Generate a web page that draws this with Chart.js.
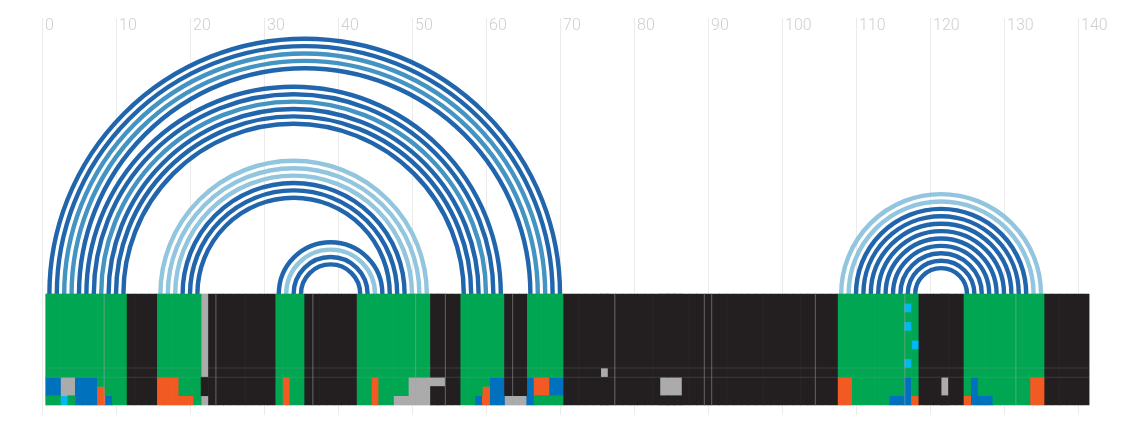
<!DOCTYPE html>
<html>
<head>
<meta charset="utf-8">
<script src="https://cdn.jsdelivr.net/npm/chart.js@4/dist/chart.umd.min.js"></script>
<style>
  html, body { margin: 0; padding: 0; background: #ffffff; }
  #wrap { width: 1128px; height: 428px; position: relative; }
</style>
</head>
<body>
<div id="wrap"><canvas id="c"></canvas></div>
<script>
// ---------------- data ----------------
const tickValues = [0, 10, 20, 30, 40, 50, 60, 70, 80, 90, 100, 110, 120, 130, 140];
const sequenceLength = 141;
const rowCount = 12;

// base pairs: left position, right position, support class
const pairLeft  = [1, 2, 3, 4, 5,   6, 7, 8, 9, 10, 11,   16, 17, 18, 19, 20, 21,   32, 33, 34, 35,
                   108, 109, 110, 111, 112, 113, 114, 115, 116, 117, 118];
const pairRight = [70, 69, 68, 67, 66,   62, 61, 60, 59, 58, 57,   52, 51, 50, 49, 48, 47,   46, 45, 44, 43,
                   135, 134, 133, 132, 131, 130, 129, 128, 127, 126, 125];
const pairClass = ['strong', 'strong', 'medium', 'medium', 'strong',
                   'strong', 'strong', 'medium', 'strong', 'strong', 'strong',
                   'weak', 'weak', 'weak', 'strong', 'strong', 'strong',
                   'strong', 'weak', 'strong', 'strong',
                   'weak', 'weak', 'strong', 'strong', 'strong', 'strong', 'strong', 'strong', 'strong', 'strong', 'strong'];

// columns paired in every row
const pairedRuns = [[1, 11], [16, 21], [32, 35], [43, 52], [57, 62], [66, 70], [108, 118], [125, 135]];

// per-cell states: [fromCol, toCol, fromRow, toRow, state]
// states: P paired, U unpaired, O orange, B blue, S gap (gray), C cyan
const cellMarks = [
  [22, 22, 0, 8, 'S'], [22, 22, 11, 11, 'S'],
  [117, 117, 1, 1, 'C'], [117, 117, 3, 3, 'C'], [118, 118, 5, 5, 'C'], [117, 117, 7, 7, 'C'],
  [76, 76, 8, 8, 'S'],
  [1, 2, 9, 10, 'B'], [3, 4, 9, 10, 'S'], [3, 3, 11, 11, 'C'], [5, 7, 9, 11, 'B'],
  [8, 8, 10, 11, 'O'], [9, 9, 11, 11, 'B'],
  [16, 18, 9, 11, 'O'], [19, 20, 11, 11, 'O'],
  [33, 33, 9, 11, 'O'], [45, 45, 9, 11, 'O'],
  [50, 54, 9, 9, 'S'], [50, 52, 10, 10, 'S'], [48, 52, 11, 11, 'S'],
  [59, 59, 11, 11, 'B'], [60, 60, 10, 11, 'O'], [61, 62, 9, 11, 'B'], [63, 65, 11, 11, 'S'],
  [66, 66, 9, 11, 'B'], [67, 68, 9, 10, 'O'], [69, 70, 9, 10, 'B'],
  [84, 86, 9, 10, 'S'],
  [108, 109, 9, 11, 'O'],
  [115, 116, 11, 11, 'B'], [117, 117, 9, 11, 'B'], [118, 118, 11, 11, 'O'],
  [122, 122, 9, 10, 'S'],
  [125, 125, 11, 11, 'O'], [126, 126, 9, 11, 'B'], [127, 128, 11, 11, 'B'],
  [134, 135, 9, 11, 'O']
];

// faint guide lines inside the band
const bandGuides = [8.4, 23.5, 36.6, 50.5, 54.5, 63.6, 77.4, 89.5, 90.5, 104.5, 116.6, 131.6];
const bandSeparatorRows = [8, 9];

// ---------------- styles ----------------
const ROW_H = 1.25;            // row height in axis units
const stateColors = { U: '#231f20', P: '#00a651', O: '#f15a22', B: '#0071bc', S: '#ababab', C: '#00b9f1' };
const arcColors = { strong: '#2166ac', medium: '#4393c3', weak: '#92c5de' };
const faint = 'rgba(170,170,170,0.2)';

// ---------------- build grid ----------------
const grid = [];
for (let r = 0; r < rowCount; r++) {
  const row = {};
  for (let c = 1; c <= sequenceLength; c++) row[c] = 'U';
  pairedRuns.forEach(([a, b]) => { for (let c = a; c <= b; c++) row[c] = 'P'; });
  grid.push(row);
}
cellMarks.forEach(([c0, c1, r0, r1, s]) => {
  for (let r = r0; r <= r1; r++) for (let c = c0; c <= c1; c++) grid[r][c] = s;
});

const cellData = {};
Object.keys(stateColors).forEach(k => cellData[k] = []);
for (let c = 1; c <= sequenceLength; c++) {
  let r = 0;
  while (r < rowCount) {
    const s = grid[r][c];
    let e = r;
    while (e + 1 < rowCount && grid[e + 1][c] === s) e++;
    cellData[s].push({ x: c, y: [-(e + 1) * ROW_H, -r * ROW_H] });
    r = e + 1;
  }
}

const datasets = [];
Object.keys(stateColors).forEach(k => {
  datasets.push({
    type: 'bar', data: cellData[k], backgroundColor: stateColors[k],
    borderWidth: 0, barPercentage: 1, categoryPercentage: 1, grouped: false, order: 2
  });
});
const bandLeft = 0.5, bandRight = sequenceLength + 0.5;
bandSeparatorRows.forEach(r => {
  datasets.push({
    type: 'line', data: [{ x: bandLeft, y: -r * ROW_H }, { x: bandRight, y: -r * ROW_H }],
    borderColor: faint, borderWidth: 1, pointRadius: 0, order: 1
  });
});
bandGuides.forEach(g => {
  datasets.push({
    type: 'line', data: [{ x: g, y: 0 }, { x: g, y: -rowCount * ROW_H }],
    borderColor: faint, borderWidth: 1, pointRadius: 0, order: 1
  });
});

// ---------------- arcs plugin ----------------
const arcPlugin = {
  id: 'pairArcs',
  beforeDatasetsDraw(chart) {
    const { ctx, chartArea, scales: { x, y } } = chart;
    ctx.save();
    ctx.beginPath();
    ctx.rect(chartArea.left, chartArea.top, chartArea.width, chartArea.height);
    ctx.clip();
    ctx.lineWidth = 4.4;
    const y0 = y.getPixelForValue(0);
    pairLeft.forEach((l, i) => {
      const a = x.getPixelForValue(l), b = x.getPixelForValue(pairRight[i]);
      ctx.beginPath();
      ctx.strokeStyle = arcColors[pairClass[i]];
      ctx.arc((a + b) / 2, y0, Math.abs(b - a) / 2, Math.PI, 2 * Math.PI);
      ctx.stroke();
    });
    ctx.restore();
  }
};

// ---------------- chart ----------------
const PX_PER_UNIT = 7.4;
const W = 1128, TOP = 18, BOTTOM = 13, H = 428;
const x0px = 42, bandTopPx = 294;
const xMin = -x0px / PX_PER_UNIT, xMax = (W - x0px) / PX_PER_UNIT;
const yMax = (bandTopPx - TOP) / PX_PER_UNIT, yMin = -((H - BOTTOM) - bandTopPx) / PX_PER_UNIT;

new Chart(document.getElementById('c'), {
  type: 'bar',
  data: { datasets },
  plugins: [arcPlugin],
  options: {
    responsive: true,
    maintainAspectRatio: false,
    animation: false,
    events: [],
    layout: { padding: { top: TOP, bottom: BOTTOM, left: 0, right: 0 } },
    plugins: { legend: { display: false }, tooltip: { enabled: false } },
    scales: {
      x: {
        type: 'linear', position: 'top', min: xMin, max: xMax, offset: false,
        afterBuildTicks: (scale) => { scale.ticks = tickValues.map(v => ({ value: v })); },
        grid: { color: '#ebebeb', lineWidth: 1, drawTicks: false, tickLength: 0, offset: false },
        border: { display: false },
        ticks: {
          mirror: true, padding: 0, align: 'start', labelOffset: 3,
          autoSkip: false, maxRotation: 0, minRotation: 0,
          color: '#cfcfcf',
          font: { family: 'Roboto, "Liberation Sans", sans-serif', size: 16, weight: '300', lineHeight: 1 },
          callback: (v) => String(v)
        }
      },
      y: {
        type: 'linear', display: false, min: yMin, max: yMax, offset: false,
        grid: { display: false }
      }
    }
  }
});
</script>
</body>
</html>
